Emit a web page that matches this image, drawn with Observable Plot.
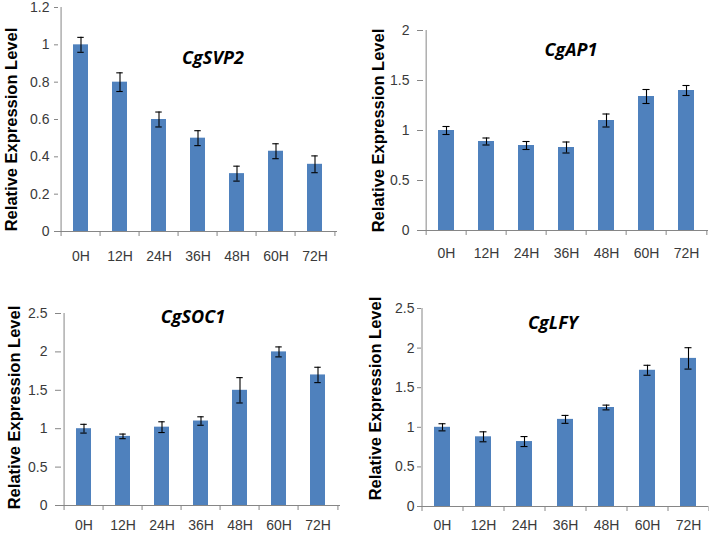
<!DOCTYPE html>
<html>
<head>
<meta charset="utf-8">
<script src="https://cdn.jsdelivr.net/npm/d3@7"></script>
<script src="https://cdn.jsdelivr.net/npm/@observablehq/plot@0.6"></script>
<style>
  html, body { margin: 0; padding: 0; background: #fff; }
  body { position: relative; width: 709px; height: 533px; overflow: hidden; }
  .panel { position: absolute; }
  .panel svg { overflow: visible; }
</style>
</head>
<body>
<div id="p1" class="panel" style="left:0px;top:0px"></div>
<div id="p2" class="panel" style="left:350px;top:0px"></div>
<div id="p3" class="panel" style="left:0px;top:265px"></div>
<div id="p4" class="panel" style="left:350px;top:265px"></div>
<script>
// ---- data ----
const times = ["0H", "12H", "24H", "36H", "48H", "60H", "72H"];
const yTitle = "Relative Expression Level";

const svp2Name = "CgSVP2";
const svp2Values = [1.0, 0.80, 0.60, 0.50, 0.31, 0.43, 0.36];
const svp2Errors = [0.04, 0.05, 0.04, 0.04, 0.04, 0.04, 0.045];
const svp2Ticks = [0, 0.2, 0.4, 0.6, 0.8, 1, 1.2];

const ap1Name = "CgAP1";
const ap1Values = [1.0, 0.89, 0.85, 0.83, 1.10, 1.34, 1.40];
const ap1Errors = [0.04, 0.035, 0.04, 0.055, 0.065, 0.07, 0.05];
const ap1Ticks = [0, 0.5, 1, 1.5, 2];

const soc1Name = "CgSOC1";
const soc1Values = [1.0, 0.90, 1.02, 1.10, 1.50, 2.00, 1.70];
const soc1Errors = [0.057, 0.03, 0.07, 0.055, 0.165, 0.065, 0.10];
const soc1Ticks = [0, 0.5, 1, 1.5, 2, 2.5];

const lfyName = "CgLFY";
const lfyValues = [1.0, 0.88, 0.82, 1.10, 1.25, 1.72, 1.87];
const lfyErrors = [0.045, 0.063, 0.063, 0.05, 0.03, 0.063, 0.135];
const lfyTicks = [0, 0.5, 1, 1.5, 2, 2.5];

// ---- drawing ----
const BAR = "#4F81BD";
const AXIS = "#868686";
const TEXT = "#3a3a3a";
const PAD_INNER = 0.61;

function panel(cfg) {
  const rows = times.map((t, i) => ({
    t, v: cfg.values[i], lo: cfg.values[i] - cfg.errors[i], hi: cfg.values[i] + cfg.errors[i]
  }));
  const plotW = cfg.width - cfg.ml - cfg.mr;
  const plotH = cfg.height - cfg.mt - cfg.mb;
  const step = plotW / times.length;
  const bandwidth = step * (1 - PAD_INNER);
  const capInset = (bandwidth - 7) / 2;
  const ymax = cfg.ticks[cfg.ticks.length - 1];
  return Plot.plot({
    width: cfg.width,
    height: cfg.height,
    marginLeft: cfg.ml, marginRight: cfg.mr, marginTop: cfg.mt, marginBottom: cfg.mb,
    style: { fontFamily: "'Liberation Sans', Arial, sans-serif", fontSize: "14px", color: TEXT, background: "transparent" },
    x: { domain: times, paddingInner: PAD_INNER, paddingOuter: PAD_INNER / 2, label: null },
    y: { domain: [0, ymax], label: null },
    marks: [
      Plot.barY(rows, { x: "t", y: "v", fill: BAR }),
      Plot.ruleX(rows, { x: "t", y1: "lo", y2: "hi", stroke: "#000", strokeWidth: 1.1 }),
      Plot.tickY(rows, { x: "t", y: "lo", stroke: "#000", strokeWidth: 1.1, insetLeft: capInset, insetRight: capInset }),
      Plot.tickY(rows, { x: "t", y: "hi", stroke: "#000", strokeWidth: 1.1, insetLeft: capInset, insetRight: capInset }),
      // x axis baseline
      Plot.ruleY([0], { stroke: AXIS, strokeWidth: 1 }),
      // y axis line at left boundary of first band
      Plot.ruleX([times[0]], { x: d => d, dx: -step / 2, stroke: AXIS, strokeWidth: 1 }),
      // category boundary ticks below the x axis
      Plot.ruleX(times, { x: d => d, dx: -step / 2, insetTop: plotH, insetBottom: -5, stroke: AXIS }),
      Plot.ruleX([times[times.length - 1]], { x: d => d, dx: step / 2, insetTop: plotH, insetBottom: -5, stroke: AXIS }),
      Plot.axisX({ tickSize: 0, tickPadding: cfg.xPad, label: null, fill: TEXT }),
      Plot.axisY({ ticks: cfg.ticks, tickFormat: d => String(d), tickSize: cfg.tickSize, tickPadding: cfg.yPad, stroke: AXIS, fill: TEXT, label: null }),
      Plot.text([yTitle], { frameAnchor: "left", textAnchor: "middle", lineAnchor: "middle", rotate: -90, dx: cfg.ytDx, dy: cfg.ytDy, fontWeight: "bold", fontSize: 16.5, fill: "#000" }),
      Plot.text([cfg.name], { frameAnchor: "top", textAnchor: "middle", lineAnchor: "middle", dx: cfg.tDx, dy: cfg.tDy, fontStyle: "italic", fontWeight: "bold", fontSize: 18, fontFamily: "'Open Sans', sans-serif", fill: "#000" })
    ]
  });
}

document.getElementById("p1").append(panel({
  name: svp2Name, values: svp2Values, errors: svp2Errors, ticks: svp2Ticks,
  width: 350, height: 265, ml: 58, mr: 13, mt: 7, mb: 34,
  xPad: 20, yPad: 5, tickSize: 4, ytDx: -47, ytDy: 10, tDx: 15, tDy: 51
}));
document.getElementById("p2").append(panel({
  name: ap1Name, values: ap1Values, errors: ap1Errors, ticks: ap1Ticks,
  width: 359, height: 265, ml: 73, mr: 1, mt: 30, mb: 35,
  xPad: 18, yPad: 8, tickSize: 6, ytDx: -45, ytDy: 0, tDx: 5, tDy: 20
}));
document.getElementById("p3").append(panel({
  name: soc1Name, values: soc1Values, errors: soc1Errors, ticks: soc1Ticks,
  width: 350, height: 268, ml: 61, mr: 10, mt: 48, mb: 28,
  xPad: 15, yPad: 8, tickSize: 6, ytDx: -47, ytDy: -2, tDx: -8, tDy: 4
}));
document.getElementById("p4").append(panel({
  name: lfyName, values: lfyValues, errors: lfyErrors, ticks: lfyTicks,
  width: 359, height: 268, ml: 71, mr: 1, mt: 43, mb: 27,
  xPad: 14, yPad: 3, tickSize: 4, ytDx: -46, ytDy: -9, tDx: -12, tDy: 15
}));
</script>
</body>
</html>
